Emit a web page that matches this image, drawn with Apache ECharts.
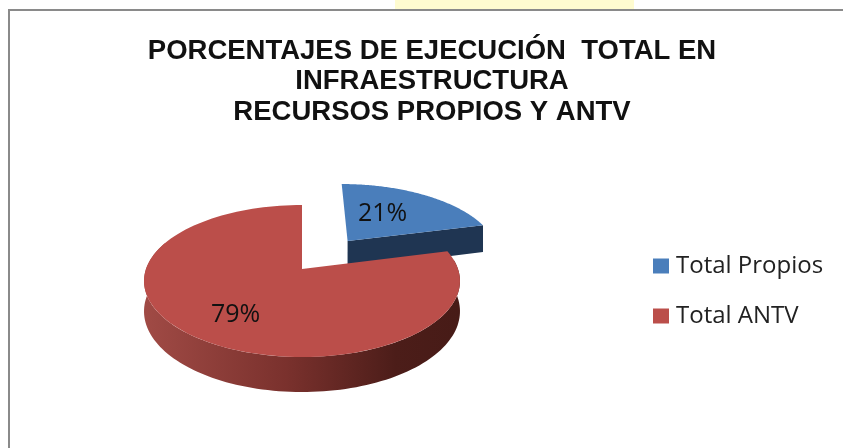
<!DOCTYPE html>
<html><head><meta charset="utf-8">
<style>html,body{margin:0;padding:0;background:#fff}#c{width:843px;height:448px}</style>
<script src="https://cdn.jsdelivr.net/npm/echarts@6/dist/echarts.min.js"></script>
</head><body><div id="c"></div>
<script>
const titleLines = ['PORCENTAJES DE EJECUCIÓN  TOTAL EN', 'INFRAESTRUCTURA', 'RECURSOS PROPIOS Y ANTV'];
const categories = ['Total Propios', 'Total ANTV'];
const values = [21, 79];
const topColors = ['#4A7EBB', '#BB4E4A'];
const explode = [0.507, 0];

// projection of the tilted pie
const view = {cx: 302, cy: 269, rx: 156, ry: 74.1, persp: 0.158, depth: 29.5};
const labelTweak = [{f: 0.52, a: -6}, {f: 0.68, a: -3}];
const total = values.reduce((a, b) => a + b, 0);

function project(u, v, drop) {
  const w = 1 + view.persp * v;
  return [view.cx + view.rx * u / w, view.cy - view.ry * v / w + (drop ? view.depth / w : 0)];
}
function sliceGeom(i) {
  let before = 0;
  for (let k = 0; k < i; k++) before += values[k];
  const a0 = before / total * Math.PI * 2;
  const a1 = (before + values[i]) / total * Math.PI * 2;
  const mid = (a0 + a1) / 2;
  return {a0, a1, mid, ou: explode[i] * Math.sin(mid), ov: explode[i] * Math.cos(mid)};
}
function arc(g, from, to, drop) {
  const pts = [], n = 120;
  for (let k = 0; k <= n; k++) {
    const t = from + (to - from) * k / n;
    pts.push(project(g.ou + Math.sin(t), g.ov + Math.cos(t), drop));
  }
  return pts;
}
function renderSlice(i) {
  return function () {
    const g = sliceGeom(i);
    const children = [];
    const apexTop = project(g.ou, g.ov, false);
    const apexLow = project(g.ou, g.ov, true);
    if (i === 0) {
      // exploded slice: radial cut face and short outer wall, both in shadow
      const endTop = project(g.ou + Math.sin(g.a1), g.ov + Math.cos(g.a1), false);
      const endLow = project(g.ou + Math.sin(g.a1), g.ov + Math.cos(g.a1), true);
      children.push({type: 'polygon', shape: {points: [apexTop, endTop, endLow, apexLow]},
        style: {fill: '#1F3552'}});
    } else {
      const from = Math.PI * 0.46, to = Math.PI * 1.62;
      const wall = arc(g, from, to, false).concat(arc(g, from, to, true).reverse());
      children.push({type: 'polygon', shape: {points: wall}, style: {
        fill: new echarts.graphic.LinearGradient(view.cx - view.rx, 0, view.cx + view.rx, 0, [
          {offset: 0, color: '#A04A45'},
          {offset: 0.45, color: '#7A312D'},
          {offset: 0.8, color: '#4C1D19'},
          {offset: 1, color: '#471B17'}
        ], true)
      }});
    }
    const top = [apexTop].concat(arc(g, g.a0, g.a1, false));
    children.push({type: 'polygon', shape: {points: top}, style: {fill: topColors[i]}});
    const t = labelTweak[i];
    const la = g.mid + t.a * Math.PI / 180;
    const lp = project(g.ou + t.f * Math.sin(la), g.ov + t.f * Math.cos(la), false);
    children.push({type: 'text', z2: 10, style: {
      text: values[i] + '%', x: lp[0], y: lp[1], align: 'center', verticalAlign: 'middle',
      font: '400 25px "Open Sans"', fill: '#111'
    }});
    return {type: 'group', children};
  };
}

const chart = echarts.init(document.getElementById('c'), null, {renderer: 'canvas'});
chart.setOption({
  animation: false,
  backgroundColor: '#ffffff',
  title: {
    text: titleLines.join('\n'),
    left: 427, top: 31, textAlign: 'center',
    textStyle: {fontFamily: 'Liberation Sans', fontWeight: 'bold', fontSize: 27.5, lineHeight: 30.5, color: '#111'}
  },
  legend: {
    orient: 'vertical', left: 648, top: 249, itemWidth: 16, itemHeight: 15, itemGap: 26,
    icon: 'rect', data: categories,
    textStyle: {fontFamily: 'Open Sans', fontSize: 24, color: '#222', padding: [0, 0, 0, 2]}
  },
  graphic: [
    {type: 'rect', silent: true, z: -1, shape: {x: 395, y: 0, width: 239, height: 9}, style: {fill: '#FFFCD0'}},
    {type: 'rect', silent: true, z: -1, shape: {x: 8, y: 9, width: 835, height: 2}, style: {fill: '#8A8A8A'}},
    {type: 'rect', silent: true, z: -1, shape: {x: 8, y: 9, width: 2, height: 439}, style: {fill: '#8A8A8A'}}
  ],
  series: categories.map((name, i) => ({
    type: 'custom', name, coordinateSystem: 'none', silent: true,
    itemStyle: {color: topColors[i]},
    data: [values[i]],
    renderItem: renderSlice(i)
  }))
});
</script></body></html>
